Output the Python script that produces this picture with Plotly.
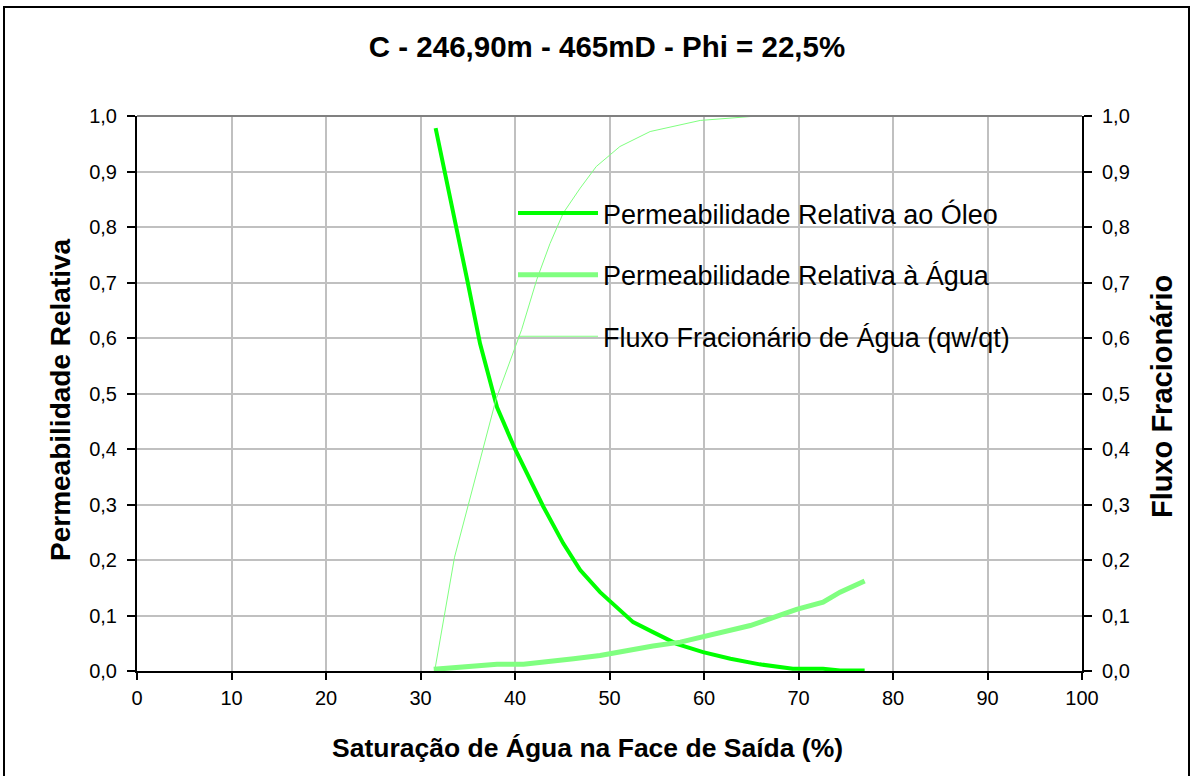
import plotly.graph_objects as go

# ---- data ----
sw_oil = [31.6, 33.5, 35.0, 36.3, 38.1, 40.0, 43.0, 45.1, 46.9, 49.0, 52.5, 54.6,
          57.1, 59.9, 62.8, 65.9, 69.4, 72.6, 74.4, 77.0]
kro = [0.978, 0.825, 0.700, 0.590, 0.475, 0.400, 0.296, 0.230, 0.182, 0.142, 0.088,
       0.070, 0.049, 0.034, 0.022, 0.012, 0.004, 0.004, 0.001, 0.001]

sw_water = [31.4, 33.5, 35.9, 38.1, 40.9, 43.4, 46.2, 49.0, 51.8, 54.6, 57.5, 59.9,
            62.4, 64.9, 67.3, 69.8, 72.6, 74.4, 77.0]
krw = [0.003, 0.006, 0.0085, 0.012, 0.012, 0.016, 0.022, 0.028, 0.037, 0.045, 0.052,
       0.061, 0.072, 0.082, 0.096, 0.111, 0.124, 0.142, 0.162]

sw_fw = [31.5, 33.6, 38.0, 40.7, 42.3, 43.7, 45.1, 46.9, 48.6, 51.1, 54.3, 59.6, 64.9, 67.5]
fw = [0.0, 0.205, 0.490, 0.615, 0.705, 0.770, 0.825, 0.870, 0.909, 0.945, 0.972,
      0.992, 0.999, 1.000]

x_ticks = [0, 10, 20, 30, 40, 50, 60, 70, 80, 90, 100]
y_ticks = [0.0, 0.1, 0.2, 0.3, 0.4, 0.5, 0.6, 0.7, 0.8, 0.9, 1.0]
y_ticklabels = ["0,0", "0,1", "0,2", "0,3", "0,4", "0,5", "0,6", "0,7", "0,8", "0,9", "1,0"]

title_text = "C - 246,90m - 465mD - Phi = 22,5%"
name_oil = "Permeabilidade Relativa ao Óleo"
name_water = "Permeabilidade Relativa à Água"
name_fw = "Fluxo Fracionário de Água (qw/qt)"

# ---- layout constants ----
W, H = 1190, 776
L, R, T, B = 137, 108, 116, 105
PW = W - L - R
PH = H - T - B


def px_x(p):
    return (p - L) / PW


def px_y(p):
    return (H - B - p) / PH


FONT = "Liberation Sans, Arial, sans-serif"

fig = go.Figure()
fig.add_trace(go.Scatter(x=sw_oil, y=kro, mode="lines", name=name_oil,
                         legendgroup="a", line=dict(color="#00FF00", width=4)))
fig.add_trace(go.Scatter(x=sw_water, y=krw, mode="lines", name=name_water,
                         legendgroup="b", line=dict(color="#80FF80", width=5)))
fig.add_trace(go.Scatter(x=sw_fw, y=fw, mode="lines", name=name_fw, yaxis="y2",
                         legendgroup="c", line=dict(color="#80FF80", width=1)))

fig.update_layout(
    width=W, height=H,
    margin=dict(l=L, r=R, t=T, b=B),
    paper_bgcolor="white", plot_bgcolor="white",
    font=dict(family=FONT, color="black", size=20),
    title=dict(text="<b>" + title_text + "</b>", x=607 / W, xanchor="center",
               y=1 - 47 / H, yanchor="middle", font=dict(size=29.5, family=FONT)),
    xaxis=dict(range=[0, 100], tickvals=x_ticks, ticktext=[str(v) for v in x_ticks],
               showgrid=True, gridcolor="#C0C0C0", gridwidth=2,
               showline=True, linecolor="black", linewidth=2,
               ticks="outside", ticklen=7, tickwidth=2, tickcolor="black",
               ticklabelstandoff=1, zeroline=False,
               tickfont=dict(size=20)),
    yaxis=dict(range=[0, 1], tickvals=y_ticks, ticktext=y_ticklabels,
               showgrid=True, gridcolor="#C0C0C0", gridwidth=2,
               showline=True, linecolor="black", linewidth=2,
               ticks="outside", ticklen=8, tickwidth=2, tickcolor="black",
               ticklabelstandoff=6, zeroline=False, tickfont=dict(size=20)),
    yaxis2=dict(range=[0, 1], tickvals=y_ticks, ticktext=y_ticklabels,
                overlaying="y", side="right", showgrid=False,
                showline=True, linecolor="black", linewidth=2,
                ticks="outside", ticklen=8, tickwidth=2, tickcolor="black",
                ticklabelstandoff=6, zeroline=False, tickfont=dict(size=20)),
    showlegend=True,
    legend=dict(x=px_x(513), xanchor="left", y=px_y(189), yanchor="top",
                bgcolor="rgba(0,0,0,0)", borderwidth=0,
                font=dict(size=27, family=FONT),
                tracegroupgap=23.5, itemwidth=80, traceorder="grouped"),
    annotations=[
        dict(text="<b>Permeabilidade Relativa</b>", xref="paper", yref="paper",
             x=px_x(60), y=px_y(400), textangle=-90, showarrow=False,
             font=dict(size=28, family=FONT), xanchor="center", yanchor="middle"),
        dict(text="<b>Fluxo Fracionário</b>", xref="paper", yref="paper",
             x=px_x(1162), y=px_y(397), textangle=-90, showarrow=False,
             font=dict(size=29, family=FONT), xanchor="center", yanchor="middle"),
        dict(text="<b>Saturação de Água na Face de Saída (%)</b>", xref="paper",
             yref="paper", x=px_x(587), y=px_y(748), showarrow=False,
             font=dict(size=26.5, family=FONT), xanchor="center", yanchor="middle"),
    ],
    shapes=[
        # white legend box: above gridlines, below the data lines
        dict(type="rect", xref="paper", yref="paper", x0=px_x(495), x1=px_x(1033),
             y0=px_y(362), y1=px_y(181), fillcolor="white",
             line=dict(width=0), layer="between"),
        dict(type="line", xref="paper", yref="paper", x0=0, x1=1, y0=1, y1=1,
             line=dict(color="#808080", width=2), layer="above"),
        dict(type="rect", xref="paper", yref="paper", x0=px_x(4), x1=px_x(1189),
             y0=px_y(790), y1=px_y(7), line=dict(color="black", width=2),
             layer="above"),
    ],
)

fig.write_html("out.html")
